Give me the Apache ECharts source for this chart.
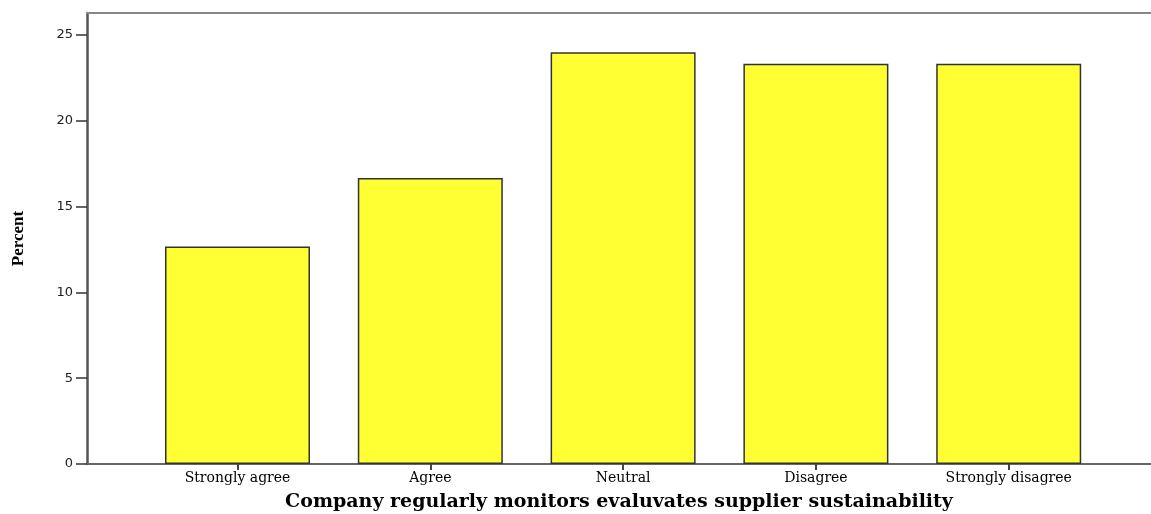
<!DOCTYPE html>
<html>
<head>
<meta charset="utf-8">
<script src="https://cdn.jsdelivr.net/npm/echarts@6/dist/echarts.min.js"></script>
<style>html,body{margin:0;padding:0;background:#fff}#c{width:1151px;height:514px}</style>
</head>
<body>
<div id="c"></div>
<script>
const categories = ['Strongly agree', 'Agree', 'Neutral', 'Disagree', 'Strongly disagree'];
const percentValues = [12.67, 16.67, 24.0, 23.33, 23.33];
const yTicks = [0, 5, 10, 15, 20, 25];

const chart = echarts.init(document.getElementById('c'));
const positions = categories.map((_, i) => i);
chart.setOption({
  animation: false,
  grid: { left: 87, top: 13, right: 0, bottom: 50, containLabel: false, outerBoundsMode: 'none' },
  xAxis: [{
    type: 'value',
    min: -0.7806,
    max: 4.738,
    name: 'Company regularly monitors evaluvates supplier sustainability',
    nameLocation: 'middle',
    nameGap: 29,
    nameTextStyle: { fontFamily: 'DejaVu Serif', fontWeight: 'bold', fontSize: 19, color: '#000' },
    axisLine: { show: true, onZero: false, lineStyle: { color: '#666', width: 2 } },
    axisTick: { show: true, customValues: positions, length: 6, lineStyle: { color: '#444', width: 2 } },
    axisLabel: { customValues: positions, formatter: v => categories[Math.round(v)], fontFamily: 'DejaVu Serif', fontSize: 14, color: '#000', margin: 7 },
    splitLine: { show: false }
  }, {
    type: 'value', position: 'top', min: 0, max: 1,
    axisLine: { show: true, onZero: false, lineStyle: { color: '#888', width: 2 } },
    axisTick: { show: false }, axisLabel: { show: false }, splitLine: { show: false }
  }],
  yAxis: {
    type: 'value',
    min: 0,
    max: 26.28,
    interval: 5,
    name: 'Percent',
    nameLocation: 'middle',
    nameGap: 60,
    nameRotate: 90,
    nameTextStyle: { fontFamily: 'Liberation Serif', fontWeight: 'bold', fontSize: 17, color: '#000' },
    axisLine: { show: true, onZero: false, lineStyle: { color: '#555', width: 2.5 } },
    axisTick: { show: true, customValues: yTicks, length: 11, lineStyle: { color: '#333', width: 1.5 } },
    axisLabel: { customValues: yTicks, fontFamily: 'DejaVu Sans', fontSize: 13, color: '#222', margin: 14 },
    splitLine: { show: false }
  },
  series: [{
    type: 'bar',
    data: positions.map(i => [i, percentValues[i]]),
    barWidth: 145,
    itemStyle: { color: '#ffff33', borderColor: '#333', borderWidth: 1.5 }
  }]
});
</script>
</body>
</html>
